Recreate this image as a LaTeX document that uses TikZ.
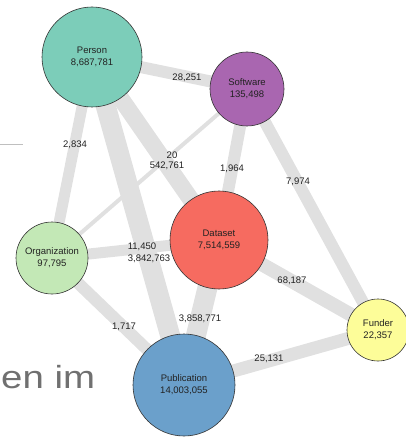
\documentclass[tikz,border=0pt]{standalone}
\usepackage{fontspec}
\setmainfont{Liberation Sans}
\newfontfamily\slidefont[FakeStretch=1.2]{Liberation Sans}
\usetikzlibrary{backgrounds}
\definecolor{cperson}{HTML}{7CCDB9}
\definecolor{csoftware}{HTML}{A966B0}
\definecolor{cdataset}{HTML}{F66B60}
\definecolor{corg}{HTML}{C3E8B6}
\definecolor{cfunder}{HTML}{FDFD99}
\definecolor{cpub}{HTML}{6BA0CB}
\definecolor{cedge}{HTML}{E0E0E0}
\definecolor{ctext}{HTML}{222222}
\definecolor{cslide}{HTML}{707070}
\tikzset{
  ent/.style={circle, draw=black!80, line width=0.6pt, inner sep=0pt, align=center,
    text=ctext, font=\fontsize{9.5}{12}\selectfont},
  edge/.style={draw=cedge, line cap=butt},
  elabel/.style={inner sep=0pt, text=ctext, font=\fontsize{9.5}{11}\selectfont}
}
\begin{document}
\begin{tikzpicture}[x=1pt,y=-1pt]
\useasboundingbox (0,0) rectangle (405,438);
% slide remnants
\draw[draw=black!25, line width=1pt] (0,145) -- (23,145);
\node[anchor=base west, inner sep=0pt, text=cslide, font=\slidefont\fontsize{32}{32}\selectfont] (slidetext) at (1,388) {en im};
% entities
\node[ent, fill=cperson, minimum size=100pt] (person) at (92,57) {Person\\8,687,781};
\node[ent, fill=csoftware, minimum size=74pt] (software) at (247,89) {Software\\135,498};
\node[ent, fill=cdataset, minimum size=98pt] (dataset) at (219,240) {Dataset\\7,514,559};
\node[ent, fill=corg, minimum size=72pt] (org) at (52,258) {Organization\\97,795};
\node[ent, fill=cfunder, minimum size=62pt] (funder) at (378,330) {Funder\\22,357};
\node[ent, fill=cpub, minimum size=102pt] (pub) at (184,385) {Publication\\14,003,055};
% edges
\begin{pgfonlayer}{background}
\draw[edge, line width=12pt] (person.center) -- (software.center);
\draw[edge, line width=11pt] (person.center) -- (org.center);
\draw[edge, line width=17pt] (person.center) -- (dataset.center);
\draw[edge, line width=20pt] (person.center) -- (pub.center);
\draw[edge, line width=4pt] (org.center) -- (software.center);
\draw[edge, line width=11pt] (org.center) -- (dataset.center);
\draw[edge, line width=12pt] (org.center) -- (pub.center);
\draw[edge, line width=12pt] (software.center) -- (dataset.center);
\draw[edge, line width=12pt] (software.center) -- (funder.center);
\draw[edge, line width=14pt] (dataset.center) -- (funder.center);
\draw[edge, line width=20pt] (dataset.center) -- (pub.center);
\draw[edge, line width=13pt] (pub.center) -- (funder.center);
\end{pgfonlayer}
% edge labels
\node[elabel] (l1) at (187,78) {28,251};
\node[elabel] (l2) at (75,145) {2,834};
\node[elabel] (l3) at (172,155) {20};
\node[elabel] (l4) at (167,166) {542,761};
\node[elabel] (l5) at (232,169) {1,964};
\node[elabel] (l6) at (298,182) {7,974};
\node[elabel] (l7) at (142,247) {11,450};
\node[elabel] (l8) at (149,259) {3,842,763};
\node[elabel] (l9) at (292,281) {68,187};
\node[elabel] (l10) at (200,319) {3,858,771};
\node[elabel] (l11) at (124,327) {1,717};
\node[elabel] (l12) at (269,359) {25,131};
\end{tikzpicture}
\end{document}
